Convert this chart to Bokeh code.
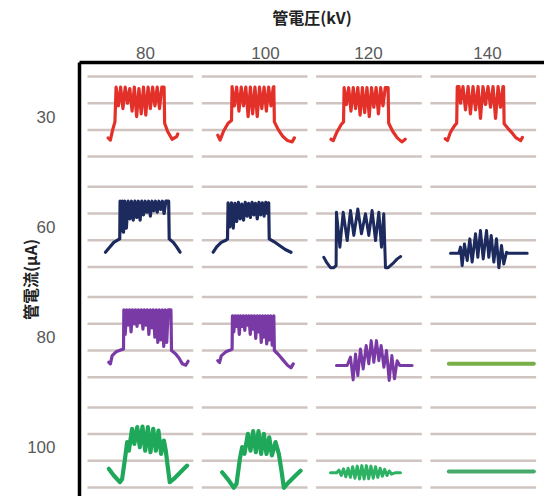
from bokeh.plotting import figure
from bokeh.models import Range1d, LinearAxis, FixedTicker, CustomJSTickFormatter, ColumnDataSource
from bokeh.embed import file_html
from bokeh.resources import INLINE

# ---------------- data ----------------
voltages_kv = ["80", "100", "120", "140"]      # columns
currents_ua = ["30", "60", "80", "100"]        # rows
x_title = "管電圧(kV)"
y_title = "管電流(μA)"

# waveforms: (x within cell 0..1, level in grid-line units, 0 = lowest line)
wave_30_80 = [(0.25, 0.70), (0.27, 0.62), (0.29, 1.00), (0.31, 1.30), (0.32, 2.60), (0.34, 1.90), (0.36, 2.60),
              (0.38, 1.80), (0.40, 2.60), (0.42, 2.00), (0.44, 2.55), (0.46, 1.70), (0.48, 2.60), (0.50, 1.50),
              (0.52, 2.55), (0.54, 1.60), (0.56, 2.60), (0.58, 1.55), (0.60, 2.60), (0.62, 1.80), (0.64, 2.60),
              (0.66, 1.90), (0.68, 2.60), (0.70, 1.80), (0.72, 2.60), (0.74, 2.60), (0.745, 1.25), (0.77, 0.95),
              (0.81, 0.65), (0.85, 0.75), (0.86, 0.85)]
wave_30_100 = [(0.21, 0.80), (0.23, 0.62), (0.26, 0.95), (0.30, 1.25), (0.33, 1.35), (0.335, 2.62), (0.355, 1.90),
               (0.375, 2.60), (0.395, 1.70), (0.415, 2.60), (0.435, 1.90), (0.455, 2.60), (0.475, 1.50),
               (0.495, 2.60), (0.515, 1.60), (0.535, 2.60), (0.555, 1.50), (0.575, 2.60), (0.595, 1.80),
               (0.615, 2.60), (0.635, 1.70), (0.655, 2.60), (0.675, 1.90), (0.695, 2.60), (0.70, 2.62),
               (0.705, 1.30), (0.74, 1.00), (0.78, 0.75), (0.82, 0.60), (0.86, 0.55), (0.88, 0.70)]
wave_30_120 = [(0.20, 0.65), (0.22, 0.60), (0.25, 0.90), (0.29, 1.20), (0.31, 1.30), (0.315, 2.58), (0.335, 1.95),
               (0.355, 2.58), (0.375, 1.70), (0.395, 2.58), (0.415, 1.80), (0.435, 2.58), (0.455, 1.55),
               (0.475, 2.58), (0.495, 1.65), (0.515, 2.58), (0.535, 1.50), (0.555, 2.58), (0.575, 1.85),
               (0.595, 2.58), (0.615, 1.60), (0.635, 2.58), (0.655, 1.90), (0.675, 2.58), (0.70, 2.58),
               (0.705, 1.25), (0.74, 0.95), (0.78, 0.70), (0.82, 0.55), (0.85, 0.65)]
wave_30_140 = [(0.20, 0.67), (0.22, 0.60), (0.245, 0.91), (0.28, 1.15), (0.30, 1.25), (0.305, 2.62), (0.32, 2.62),
               (0.333, 2.00), (0.355, 2.62), (0.377, 1.75), (0.40, 2.62), (0.42, 1.60), (0.443, 2.62),
               (0.465, 1.75), (0.487, 2.62), (0.508, 1.43), (0.53, 2.62), (0.552, 1.95), (0.574, 2.62),
               (0.596, 1.85), (0.618, 2.62), (0.64, 1.43), (0.662, 2.62), (0.683, 1.85), (0.705, 2.62),
               (0.71, 2.62), (0.715, 1.23), (0.75, 1.05), (0.78, 0.91), (0.82, 0.70), (0.86, 0.60), (0.875, 0.72)]

wave_60_80 = [(0.227, 0.55), (0.26, 0.72), (0.30, 0.92), (0.34, 1.02), (0.352, 1.05), (0.355, 2.46), (0.365, 1.35),
              (0.375, 2.46), (0.385, 1.30), (0.395, 2.46), (0.41, 1.45), (0.425, 2.46), (0.44, 1.80), (0.455, 2.46),
              (0.47, 1.75), (0.485, 2.46), (0.50, 1.85), (0.515, 2.46), (0.53, 1.75), (0.545, 2.46), (0.56, 1.95),
              (0.575, 2.46), (0.59, 2.05), (0.605, 2.46), (0.62, 1.90), (0.635, 2.46), (0.65, 2.10), (0.665, 2.46),
              (0.68, 2.05), (0.695, 2.46), (0.71, 2.15), (0.725, 2.46), (0.74, 2.00), (0.755, 2.46), (0.78, 2.46),
              (0.785, 1.05), (0.82, 0.92), (0.85, 0.75), (0.88, 0.55)]
wave_60_100 = [(0.17, 0.55), (0.20, 0.75), (0.24, 0.92), (0.28, 1.00), (0.295, 1.05), (0.30, 2.40), (0.315, 1.50),
               (0.33, 2.40), (0.345, 1.45), (0.36, 2.38), (0.375, 1.70), (0.39, 2.42), (0.405, 1.80), (0.42, 2.35),
               (0.435, 1.75), (0.45, 2.42), (0.465, 1.90), (0.48, 2.38), (0.495, 1.85), (0.51, 2.42), (0.525, 1.95),
               (0.54, 2.38), (0.555, 1.80), (0.57, 2.42), (0.585, 1.95), (0.60, 2.40), (0.615, 1.90), (0.63, 2.42),
               (0.645, 2.00), (0.655, 2.40), (0.66, 1.05), (0.70, 0.95), (0.75, 0.80), (0.80, 0.65), (0.85, 0.55)]
wave_60_120 = [(0.137, 0.36), (0.165, 0.15), (0.196, -0.03), (0.225, -0.03), (0.245, 0.05), (0.248, 2.05),
               (0.278, 0.74), (0.307, 2.05), (0.342, 0.99), (0.371, 2.11), (0.40, 1.18), (0.435, 2.17),
               (0.467, 1.24), (0.502, 1.99), (0.531, 1.18), (0.56, 2.11), (0.59, 0.99), (0.619, 2.05),
               (0.642, 0.74), (0.662, 1.99), (0.677, -0.03), (0.70, -0.03), (0.74, 0.12), (0.78, 0.30), (0.81, 0.39)]
wave_60_140 = [(0.246, 0.51), (0.319, 0.51), (0.333, 0.74), (0.348, 0.05), (0.368, 0.86), (0.392, 0.24),
               (0.415, 1.05), (0.435, 0.18), (0.465, 1.24), (0.485, 0.36), (0.508, 1.36), (0.532, 0.30),
               (0.561, 1.36), (0.581, 0.36), (0.602, 1.18), (0.625, 0.18), (0.648, 1.05), (0.669, -0.03),
               (0.692, 0.80), (0.712, 0.11), (0.736, 0.55), (0.75, 0.51), (0.917, 0.51)]

wave_80_80 = [(0.256, 0.56), (0.27, 0.50), (0.286, 0.81), (0.32, 0.95), (0.36, 1.02), (0.385, 1.06), (0.388, 2.52),
              (0.40, 1.60), (0.412, 2.52), (0.425, 1.95), (0.438, 2.52), (0.451, 1.70), (0.464, 2.52), (0.477, 2.00),
              (0.49, 2.52), (0.503, 1.90), (0.516, 2.52), (0.529, 2.05), (0.542, 2.52), (0.555, 1.80), (0.568, 2.52),
              (0.581, 1.95), (0.594, 2.52), (0.607, 1.60), (0.62, 2.52), (0.633, 1.85), (0.646, 2.52), (0.659, 1.50),
              (0.672, 2.52), (0.685, 1.30), (0.698, 2.52), (0.711, 1.40), (0.724, 2.52), (0.737, 1.15), (0.75, 2.52),
              (0.763, 1.30), (0.776, 2.52), (0.80, 2.52), (0.805, 1.00), (0.84, 0.88), (0.87, 0.72), (0.90, 0.50),
              (0.93, 0.45), (0.95, 0.60)]
wave_80_100 = [(0.21, 0.62), (0.225, 0.55), (0.24, 0.80), (0.28, 0.95), (0.32, 1.02), (0.335, 1.05), (0.338, 2.30),
               (0.35, 1.70), (0.362, 2.30), (0.374, 1.90), (0.386, 2.30), (0.398, 1.60), (0.41, 2.30), (0.422, 1.90),
               (0.434, 2.30), (0.446, 1.75), (0.458, 2.30), (0.47, 1.95), (0.482, 2.30), (0.494, 1.60), (0.506, 2.30),
               (0.518, 1.80), (0.53, 2.30), (0.542, 1.45), (0.554, 2.30), (0.566, 1.70), (0.578, 2.30), (0.59, 1.30),
               (0.602, 2.30), (0.614, 1.50), (0.626, 2.30), (0.638, 1.25), (0.65, 2.30), (0.662, 1.40), (0.674, 2.30),
               (0.686, 1.20), (0.70, 2.30), (0.705, 1.00), (0.74, 0.85), (0.78, 0.65), (0.82, 0.45), (0.85, 0.35),
               (0.87, 0.50)]
wave_80_120 = [(0.248, 0.44), (0.342, 0.44), (0.371, 0.75), (0.394, -0.10), (0.415, 0.87), (0.435, 0.06),
               (0.458, 1.06), (0.482, 0.31), (0.508, 1.19), (0.531, 0.50), (0.552, 1.37), (0.575, 0.56),
               (0.598, 1.37), (0.619, 0.62), (0.639, 1.19), (0.663, 0.37), (0.686, 1.00), (0.709, -0.12),
               (0.733, 0.81), (0.756, -0.06), (0.779, 0.62), (0.802, 0.44), (0.91, 0.44)]
wave_80_140 = [(0.231, 0.50), (0.975, 0.50)]

wave_100_80 = [(0.256, 0.70), (0.30, 0.45), (0.353, 0.20), (0.373, 0.32), (0.40, 1.14), (0.417, 1.70), (0.432, 1.38),
               (0.46, 2.20), (0.48, 1.63), (0.505, 2.26), (0.528, 1.51), (0.551, 2.28), (0.575, 1.38), (0.598, 2.26),
               (0.621, 1.32), (0.645, 2.20), (0.668, 1.38), (0.691, 2.13), (0.714, 1.26), (0.738, 1.76),
               (0.755, 1.38), (0.773, 0.75), (0.79, 0.20), (0.825, 0.32), (0.883, 0.57), (0.942, 0.82)]
wave_100_100 = [(0.248, 0.57), (0.307, 0.26), (0.35, -0.01), (0.374, 0.14), (0.403, 1.07), (0.423, 1.51),
                (0.443, 1.26), (0.473, 2.01), (0.496, 1.38), (0.519, 2.11), (0.543, 1.32), (0.566, 2.11),
                (0.589, 1.26), (0.613, 2.01), (0.636, 1.26), (0.66, 1.88), (0.683, 1.20), (0.715, 1.70),
                (0.744, 1.26), (0.767, 0.63), (0.788, -0.01), (0.831, 0.20), (0.89, 0.45), (0.934, 0.63)]
wave_100_120 = [(0.196, 0.55), (0.25, 0.55), (0.27, 0.65), (0.29, 0.45), (0.31, 0.70), (0.33, 0.40), (0.35, 0.72),
                (0.37, 0.38), (0.39, 0.78), (0.41, 0.35), (0.43, 0.80), (0.45, 0.32), (0.47, 0.82), (0.49, 0.32),
                (0.51, 0.82), (0.53, 0.33), (0.55, 0.80), (0.57, 0.35), (0.59, 0.78), (0.61, 0.38), (0.63, 0.72),
                (0.65, 0.42), (0.67, 0.68), (0.69, 0.45), (0.71, 0.62), (0.73, 0.50), (0.76, 0.55), (0.808, 0.55)]
wave_100_140 = [(0.231, 0.60), (0.975, 0.60)]

wave_grid = [
    [wave_30_80, wave_30_100, wave_30_120, wave_30_140],
    [wave_60_80, wave_60_100, wave_60_120, wave_60_140],
    [wave_80_80, wave_80_100, wave_80_120, wave_80_140],
    [wave_100_80, wave_100_100, wave_100_120, wave_100_140],
]

# ---------------- style / layout ----------------
RED, NAVY, PURPLE, GREEN = "#e3312a", "#1c2a5e", "#7a3aa6", "#1fa85a"
color_grid = [
    [RED, RED, RED, RED],
    [NAVY, NAVY, NAVY, NAVY],
    [PURPLE, PURPLE, PURPLE, "#78b047"],
    [GREEN, GREEN, "#2db264", "#45aa6a"],
]
width_grid = [
    [3.2, 3.2, 3.2, 3.2],
    [3.2, 3.2, 3.0, 3.0],
    [3.2, 3.2, 3.0, 4.0],
    [4.2, 4.2, 3.0, 4.0],
]
GRID_COLOR = "#cfc4c0"
LABEL_FONT = "Liberation Sans"
TITLE_FONT = "Noto Sans CJK JP"

FIG_W, FIG_H = 544, 496
BORDER_L, BORDER_T = 79, 62
COL_PX = 114.3          # pixels per column
LINE_PX = 26.7          # pixels between the cell lines
FRAME_W, FRAME_H = FIG_W - BORDER_L, FIG_H - BORDER_T
X_MAX = FRAME_W / COL_PX
Y_MAX = FRAME_H / LINE_PX
ROW0_BASE = (FIG_H - 156.1) / LINE_PX   # lowest line of first row
ROW_STEP = 110.3 / LINE_PX
CELL_X0, CELL_X1 = 0.07, 0.995          # extent of the cell lines inside a column
col_tick_pos = [0.577, 1.627, 2.528, 3.57]


def row_base(r):
    return ROW0_BASE - r * ROW_STEP


p = figure(width=FIG_W, height=FIG_H, output_backend="svg", toolbar_location=None,
           x_range=Range1d(0, X_MAX), y_range=Range1d(0, Y_MAX),
           x_axis_location=None, y_axis_location=None,
           min_border_left=BORDER_L, min_border_top=BORDER_T, min_border_right=0, min_border_bottom=0,
           background_fill_color="white", border_fill_color="white")
p.outline_line_color = None
p.grid.visible = False

# cell lines
gx0, gx1, gy = [], [], []
for r in range(4):
    for c in range(4):
        for k in range(4):
            gx0.append(c + CELL_X0)
            gx1.append(c + CELL_X1)
            gy.append(row_base(r) + k)
p.segment(x0=gx0, y0=gy, x1=gx1, y1=gy, line_color=GRID_COLOR, line_width=2.5)

# waveforms
xs, ys, cols, wids = [], [], [], []
for r in range(4):
    for c in range(4):
        pts = wave_grid[r][c]
        xs.append([c + px for px, _ in pts])
        ys.append([row_base(r) + py for _, py in pts])
        cols.append(color_grid[r][c])
        wids.append(width_grid[r][c])
src = ColumnDataSource(dict(xs=xs, ys=ys, color=cols, width=wids))
p.multi_line(xs="xs", ys="ys", line_color="color", line_width="width", source=src,
             line_join="round", line_cap="round")

# axes
fmt_code = """
let best = 0;
for (let i = 0; i < tv.length; i++) {
  if (Math.abs(tv[i] - tick) < Math.abs(tv[best] - tick)) best = i;
}
return labels[best];
"""
top = LinearAxis(ticker=FixedTicker(ticks=col_tick_pos),
                 formatter=CustomJSTickFormatter(args=dict(tv=col_tick_pos, labels=voltages_kv), code=fmt_code),
                 axis_label=x_title)
row_tick_pos = [row_base(r) + 1.5 for r in range(4)]
left = LinearAxis(ticker=FixedTicker(ticks=row_tick_pos),
                  formatter=CustomJSTickFormatter(args=dict(tv=row_tick_pos, labels=currents_ua), code=fmt_code),
                  axis_label=y_title)
for ax in (top, left):
    ax.axis_line_color = "black"
    ax.axis_line_width = 3.5
    ax.major_tick_line_color = None
    ax.minor_tick_line_color = None
    ax.major_tick_in = 0
    ax.major_tick_out = 0
    ax.major_label_text_font = LABEL_FONT
    ax.major_label_text_font_size = "17px"
    ax.major_label_text_color = "#595959"
    ax.axis_label_text_font = TITLE_FONT
    ax.axis_label_text_font_size = "16px"
    ax.axis_label_text_font_style = "bold"
    ax.axis_label_text_color = "#222222"
top.major_label_standoff = 4
top.axis_label_standoff = 15
left.major_label_standoff = 24
left.axis_label_standoff = -18
p.add_layout(top, "above")
p.add_layout(left, "left")

open("out.html", "w").write(file_html(p, INLINE))
